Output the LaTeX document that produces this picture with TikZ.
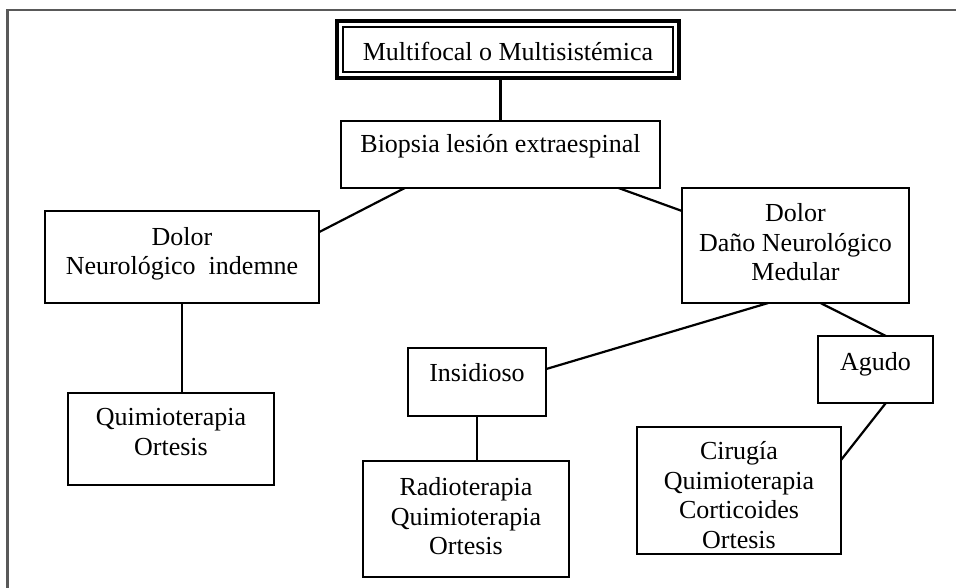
\documentclass[tikz,border=0pt]{standalone}
\usepackage{fontspec}
\setmainfont{Liberation Serif}
\usetikzlibrary{calc}
\begin{document}
\begin{tikzpicture}[x=1pt,y=-1pt,
  box/.style={draw, line width=2.8pt, inner sep=0pt, outer sep=0pt},
  lbl/.style={font=\fontsize{26}{29.5}\selectfont, align=center, inner sep=0pt},
  conn/.style={line width=2.2pt},
  frameline/.style={line width=2.6pt, draw=black!65}]
\useasboundingbox (0,0) rectangle (956,588);
% frame
\coordinate (fa) at (7.5,588);
\coordinate (fb) at (7.5,10);
\coordinate (fc) at (956,10);
\draw[frameline] (fa) -- (fb) -- (fc);
% boxes
\node[box, line width=3.8pt, minimum width=342pt, minimum height=57pt] (top) at (508,49.5) {};
\draw[line width=1.3pt] ([xshift=6pt,yshift=-6pt]top.north west) rectangle ([xshift=-6pt,yshift=6pt]top.south east);
\node[box, minimum width=319pt, minimum height=67pt] (bio) at (500.5,154.5) {};
\node[box, minimum width=274pt, minimum height=92pt] (dol1) at (182,257) {};
\node[box, minimum width=206pt, minimum height=92pt] (qui1) at (171,439) {};
\node[box, minimum width=227pt, minimum height=115pt] (dano) at (795.5,245.5) {};
\node[box, minimum width=138pt, minimum height=68pt] (insi) at (477,382) {};
\node[box, minimum width=206pt, minimum height=116pt] (radi) at (466,519) {};
\node[box, minimum width=115pt, minimum height=67pt] (agud) at (875.5,369.5) {};
\node[box, minimum width=204pt, minimum height=127pt] (ciru) at (739,490.5) {};
% texts
\node[lbl] (topt) at (508,51) {Multifocal o Multisistémica};
\node[lbl] (biot) at (500.5,146) {Biopsia lesión extraespinal};
\node[lbl] (dol1t) at (182,254) {Dolor\\Neurológico\ \ indemne};
\node[lbl] (qui1t) at (171,432) {Quimioterapia\\Ortesis};
\node[lbl] (danot) at (795.5,242.5) {Dolor\\Daño Neurológico\\Medular};
\node[lbl] (insit) at (477,372.5) {Insidioso};
\node[lbl] (radit) at (466,516.5) {Radioterapia\\Quimioterapia\\Ortesis};
\node[lbl] (agudt) at (875.5,364) {Agudo};
\node[lbl] (cirut) at (739,495) {Cirugía\\Quimioterapia\\Corticoides\\Ortesis};
% connectors
\draw[conn] (top.south -| bio.north) -- (bio.north);
\draw[conn] ($(bio.south west)!0.2!(bio.south east)$) -- ($(dol1.north east)!0.23!(dol1.south east)$);
\draw[conn] ($(bio.south west)!0.87!(bio.south east)$) -- ($(dano.north west)!0.2!(dano.south west)$);
\draw[conn] (dol1.south) -- (dol1.south |- qui1.north);
\draw[conn] ($(dano.south west)!0.38!(dano.south east)$) -- ($(insi.north east)!0.31!(insi.south east)$);
\draw[conn] ($(dano.south west)!0.61!(dano.south east)$) -- ($(agud.north west)!0.59!(agud.north east)$);
\draw[conn] (insi.south) -- (insi.south |- radi.north);
\draw[conn] ($(agud.south west)!0.59!(agud.south east)$) -- ($(ciru.north east)!0.26!(ciru.south east)$);
\end{tikzpicture}
\end{document}
